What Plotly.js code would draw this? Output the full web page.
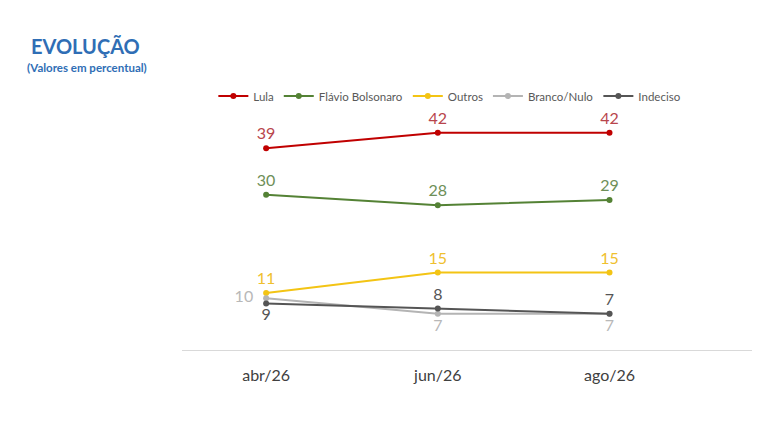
<!DOCTYPE html>
<html>
<head>
<meta charset="utf-8">
<script src="https://cdn.plot.ly/plotly-3.0.1.min.js"></script>
<style>
  html, body { margin: 0; padding: 0; background: #fff; }
  #chart { width: 768px; height: 448px; }
</style>
</head>
<body>
<div id="chart"></div>
<script>
// survey rounds
var periods = ["abr/26", "jun/26", "ago/26"];

// values in percent
var lula     = [39, 42, 42];
var flavio   = [30, 28, 29];
var outros   = [11, 15, 15];
var branco   = [10, 7, 7];
var indeciso = [9, 8, 7];

var seriesNames = ["Lula", "Flávio Bolsonaro", "Outros", "Branco/Nulo", "Indeciso"];

function line(name, y, color, labelColor, pos) {
  return {
    type: 'scatter',
    mode: 'lines+markers+text',
    name: name,
    x: periods,
    y: y,
    // pad left-placed labels so they clear the marker
    text: y.map(function(v, i) {
      var p = Array.isArray(pos) ? pos[i] : pos;
      return p === 'middle left' ? v + '\u00a0\u00a0' : String(v);
    }),
    textposition: pos,
    textfont: {family: 'Lato, sans-serif', size: 16, color: labelColor},
    line: {color: color, width: 2},
    marker: {color: color, size: 6},
    cliponaxis: false,
    hoverinfo: 'x+y+name'
  };
}

var data = [
  line(seriesNames[0], lula, '#c00000', '#b8454c', 'top center'),
  line(seriesNames[1], flavio, '#548235', '#6e8f58', 'top center'),
  line(seriesNames[2], outros, '#f3c414', '#efc02e', 'top center'),
  line(seriesNames[3], branco, '#b4b4b4', '#b8b8b8', ['middle left', 'bottom center', 'bottom center']),
  line(seriesNames[4], indeciso, '#555555', '#555555', ['bottom center', 'top center', 'top center'])
];

var layout = {
  width: 768,
  height: 448,
  margin: {l: 182, r: 16, t: 112, b: 98},
  paper_bgcolor: '#ffffff',
  plot_bgcolor: '#ffffff',
  showlegend: true,
  legend: {
    orientation: 'h',
    x: 0.055, xanchor: 'left',
    y: 1.067, yanchor: 'middle',
    font: {family: 'Lato, sans-serif', size: 11.5, color: '#595959'},
    itemwidth: 30
  },
  xaxis: {
    type: 'category',
    range: [-0.49, 2.83],
    showgrid: false,
    zeroline: false,
    showline: true,
    linecolor: '#d9d9d9',
    linewidth: 1,
    ticks: '',
    ticklabelstandoff: 11,
    tickfont: {family: 'Lato, sans-serif', size: 16, color: '#404040'}
  },
  yaxis: {
    range: [0, 46],
    showgrid: false,
    zeroline: false,
    showticklabels: false,
    showline: false
  },
  annotations: [
    {
      text: '<b>EVOLUÇÃO</b>', xref: 'paper', yref: 'paper',
      x: -0.170, y: 1.277, xanchor: 'center', yanchor: 'middle', showarrow: false,
      font: {family: 'Lato, sans-serif', size: 20, color: '#2f6eb5'}
    },
    {
      text: '<b>(Valores em percentual)</b>', xref: 'paper', yref: 'paper',
      x: -0.167, y: 1.185, xanchor: 'center', yanchor: 'middle', showarrow: false,
      font: {family: 'Lato, sans-serif', size: 11.5, color: '#2f6eb5'}
    }
  ]
};

Plotly.newPlot('chart', data, layout, {displayModeBar: false, staticPlot: true});
</script>
</body>
</html>
